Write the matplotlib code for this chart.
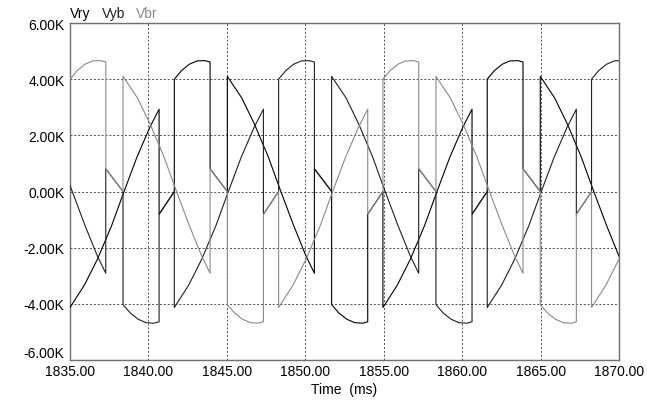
import matplotlib
matplotlib.use("Agg")
import matplotlib.pyplot as plt

plt.rcParams['font.family'] = ['Liberation Sans', 'DejaVu Sans']

# line voltages in kV, vertices as (time ms, value)
vry_t = [1835.00, 1835.92, 1836.75, 1837.65, 1838.38, 1839.25, 1840.10, 1840.68, 1840.68, 1841.65,
         1841.65, 1842.10, 1842.60, 1843.10, 1843.60, 1843.93, 1843.93, 1845.03,
         1845.03, 1845.95, 1846.76, 1847.65, 1848.39, 1849.25, 1850.04, 1850.58, 1850.58, 1851.68,
         1851.68, 1852.15, 1852.65, 1853.15, 1853.65, 1853.98, 1853.98, 1854.95,
         1854.95, 1855.87, 1856.70, 1857.60, 1858.33, 1859.20, 1860.05, 1860.63, 1860.63, 1861.60,
         1861.60, 1862.05, 1862.55, 1863.05, 1863.55, 1863.88, 1863.88, 1864.98,
         1864.98, 1865.90, 1866.71, 1867.60, 1868.34, 1869.20, 1869.99, 1870.53]
vry_v = [-4.13, -3.33, -2.41, -1.22, -0.10, 1.20, 2.30, 2.93, -0.81, 0.00,
         4.00, 4.30, 4.53, 4.65, 4.66, 4.61, 0.81, 0.00,
         4.10, 3.33, 2.40, 1.22, 0.08, -1.20, -2.29, -2.91, 0.81, 0.00,
         -4.03, -4.33, -4.55, -4.67, -4.69, -4.64, -0.81, 0.00,
         -4.13, -3.33, -2.41, -1.22, -0.10, 1.20, 2.30, 2.93, -0.81, 0.00,
         4.00, 4.30, 4.53, 4.65, 4.66, 4.61, 0.81, 0.00,
         4.10, 3.33, 2.40, 1.22, 0.08, -1.20, -2.29, -2.91]

vyb_t = [1834.35, 1835.09, 1835.95, 1836.74, 1837.28, 1837.28, 1838.38,
         1838.38, 1838.85, 1839.35, 1839.85, 1840.35, 1840.68, 1840.68, 1841.65,
         1841.65, 1842.57, 1843.40, 1844.30, 1845.03, 1845.90, 1846.75, 1847.33, 1847.33, 1848.30,
         1848.30, 1848.75, 1849.25, 1849.75, 1850.25, 1850.58, 1850.58, 1851.68,
         1851.68, 1852.60, 1853.41, 1854.30, 1855.04, 1855.90, 1856.69, 1857.23, 1857.23, 1858.33,
         1858.33, 1858.80, 1859.30, 1859.80, 1860.30, 1860.63, 1860.63, 1861.60,
         1861.60, 1862.52, 1863.35, 1864.25, 1864.98, 1865.85, 1866.70, 1867.28, 1867.28, 1868.25,
         1868.25, 1868.70, 1869.20, 1869.70, 1870.20]
vyb_v = [1.22, 0.08, -1.20, -2.29, -2.91, 0.81, 0.00,
         -4.03, -4.33, -4.55, -4.67, -4.69, -4.64, -0.81, 0.00,
         -4.13, -3.33, -2.41, -1.22, -0.10, 1.20, 2.30, 2.93, -0.81, 0.00,
         4.00, 4.30, 4.53, 4.65, 4.66, 4.61, 0.81, 0.00,
         4.10, 3.33, 2.40, 1.22, 0.08, -1.20, -2.29, -2.91, 0.81, 0.00,
         -4.03, -4.33, -4.55, -4.67, -4.69, -4.64, -0.81, 0.00,
         -4.13, -3.33, -2.41, -1.22, -0.10, 1.20, 2.30, 2.93, -0.81, 0.00,
         4.00, 4.30, 4.53, 4.65, 4.66]

vbr_t = [1835.00, 1835.45, 1835.95, 1836.45, 1836.95, 1837.28, 1837.28, 1838.38,
         1838.38, 1839.30, 1840.11, 1841.00, 1841.74, 1842.60, 1843.39, 1843.93, 1843.93, 1845.03,
         1845.03, 1845.50, 1846.00, 1846.50, 1847.00, 1847.33, 1847.33, 1848.30,
         1848.30, 1849.22, 1850.05, 1850.95, 1851.68, 1852.55, 1853.40, 1853.98, 1853.98, 1854.95,
         1854.95, 1855.40, 1855.90, 1856.40, 1856.90, 1857.23, 1857.23, 1858.33,
         1858.33, 1859.25, 1860.06, 1860.95, 1861.69, 1862.55, 1863.34, 1863.88, 1863.88, 1864.98,
         1864.98, 1865.45, 1865.95, 1866.45, 1866.95, 1867.28, 1867.28, 1868.25,
         1868.25, 1869.17, 1870.00, 1870.90]
vbr_v = [4.00, 4.30, 4.53, 4.65, 4.66, 4.61, 0.81, 0.00,
         4.10, 3.33, 2.40, 1.22, 0.08, -1.20, -2.29, -2.91, 0.81, 0.00,
         -4.03, -4.33, -4.55, -4.67, -4.69, -4.64, -0.81, 0.00,
         -4.13, -3.33, -2.41, -1.22, -0.10, 1.20, 2.30, 2.93, -0.81, 0.00,
         4.00, 4.30, 4.53, 4.65, 4.66, 4.61, 0.81, 0.00,
         4.10, 3.33, 2.40, 1.22, 0.08, -1.20, -2.29, -2.91, 0.81, 0.00,
         -4.03, -4.33, -4.55, -4.67, -4.69, -4.64, -0.81, 0.00,
         -4.13, -3.33, -2.41, -1.22]

names = ["Vry", "Vyb", "Vbr"]
colors = ["#000000", "#202020", "#8a8a8a"]

x_ticks = [1835, 1840, 1845, 1850, 1855, 1860, 1865, 1870]
y_ticks = [-6, -4, -2, 0, 2, 4, 6]

fig = plt.figure(figsize=(6.47, 4.02), dpi=100)
ax = fig.add_axes([70 / 647, 1 - 361 / 402, 549 / 647, 337 / 402])

for (t, v), c in zip([(vry_t, vry_v), (vyb_t, vyb_v), (vbr_t, vbr_v)], colors):
    ax.plot(t, v, color=c, lw=0.8, zorder=3)

ax.set_xlim(1835, 1870)
ax.set_ylim(-6, 6)
ax.set_xticks(x_ticks)
ax.set_xticklabels([f"{x:.2f}" for x in x_ticks], fontsize=10)
ax.set_yticks(y_ticks)
ax.set_yticklabels([f"{y:.2f}K" for y in y_ticks], fontsize=10)
ax.tick_params(axis="y", length=0, pad=4)
ax.tick_params(axis="x", length=0, pad=3)
# the bottom value label sits a little above the axis corner
ax.get_yticklabels()[0].set_verticalalignment("bottom")
ax.grid(True, color="#505050", lw=0.7, linestyle=(0, (2, 2)))
for s in ax.spines.values():
    s.set_color("#707070")
    s.set_linewidth(1.0)
ax.set_xlabel("Time  (ms)", fontsize=10, labelpad=3)

# curve names along the top
x0 = 70
for name, c in zip(names, colors):
    txt = fig.text(x0 / 647, 1 - 18 / 402, name, color=c, fontsize=10)
    fig.canvas.draw()
    bb = txt.get_window_extent()
    x0 += bb.width + 11

fig.savefig("out.png", dpi=100)
